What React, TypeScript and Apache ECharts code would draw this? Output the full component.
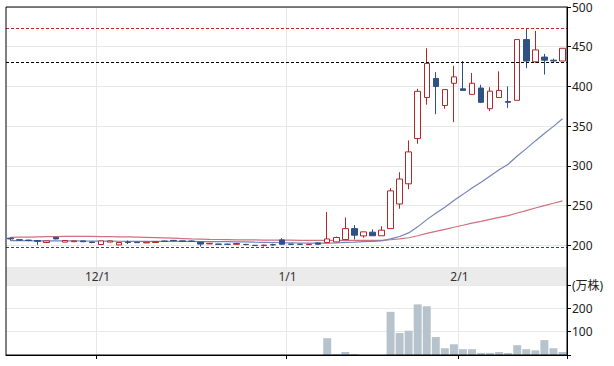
import React, { useEffect, useRef } from "react";
import * as echarts from "echarts";

const dates = [
  "2017/11/16", "2017/11/17", "2017/11/20", "2017/11/21", "2017/11/22", "2017/11/24", "2017/11/27", "2017/11/28", "2017/11/29", "2017/11/30",
  "2017/12/1", "2017/12/4", "2017/12/5", "2017/12/6", "2017/12/7", "2017/12/8", "2017/12/11", "2017/12/12", "2017/12/13", "2017/12/14",
  "2017/12/15", "2017/12/18", "2017/12/19", "2017/12/20", "2017/12/21", "2017/12/22", "2017/12/25", "2017/12/26", "2017/12/27", "2017/12/28",
  "2017/12/29", "2018/1/4", "2018/1/5", "2018/1/9", "2018/1/10", "2018/1/11", "2018/1/12", "2018/1/15", "2018/1/16", "2018/1/17",
  "2018/1/18", "2018/1/19", "2018/1/22", "2018/1/23", "2018/1/24", "2018/1/25", "2018/1/26", "2018/1/29", "2018/1/30", "2018/1/31",
  "2018/2/1", "2018/2/2", "2018/2/5", "2018/2/6", "2018/2/7", "2018/2/8", "2018/2/9", "2018/2/13", "2018/2/14", "2018/2/15",
  "2018/2/16", "2018/2/19",
];

// [open, close, low, high]
const candles = [
  [209, 208, 206, 210], [207, 206.5, 206, 207.5], [206.5, 206, 205, 207], [206, 205, 200.5, 206.5], [203.5, 205.5, 203.5, 205.5],
  [210, 208, 207.5, 210], [204, 206, 204, 206], [204.5, 205.5, 204.5, 205.5], [205.5, 204.5, 204.5, 205.5], [204, 203.5, 202.5, 204.5],
  [201, 205.5, 200.5, 205.5], [204, 205.5, 204, 206], [200.5, 203.5, 200, 203.5], [204, 203.5, 201.5, 206], [203.8, 203.3, 203, 204],
  [203, 203.8, 203, 204], [203.5, 204.5, 203.5, 204.5], [205.2, 205, 204.5, 206], [206.2, 205.8, 205.5, 206.5], [205.5, 205, 205, 205.5],
  [205.2, 205, 204.5, 206], [204, 201.5, 198.3, 204], [201.7, 202.5, 201.5, 202.8], [201.6, 201.2, 201, 201.8], [201.4, 201.2, 200.5, 202],
  [201.2, 202.3, 201, 203], [201.1, 200.9, 200, 201.8], [200, 199.6, 199.4, 200.2], [199.6, 200.2, 198.5, 200.8], [200.8, 200.5, 199.5, 202],
  [206.8, 201.3, 201, 209], [201.5, 201.2, 201, 201.6], [201.4, 201.2, 201, 201.6], [200.8, 201.3, 200.5, 201.5], [203, 201.3, 201, 203.3],
  [203.4, 208, 203, 242], [204.2, 209.8, 203.8, 211], [207.2, 221, 207, 235], [221, 212.7, 207.2, 225.4], [211.8, 216.9, 209.5, 217],
  [216.5, 212, 211.8, 220], [212, 219, 211.8, 224], [221, 268.5, 221, 272], [252, 283.4, 246, 292], [277.4, 317.6, 270.7, 332],
  [334.4, 393.8, 327.8, 397], [386, 429, 377, 448], [410, 400, 365, 418], [376, 396, 372, 396], [404, 412, 355, 426],
  [397, 395, 395, 432], [390, 404, 390, 417], [398, 380, 379, 402], [372, 394, 369, 399], [386, 395, 386, 419],
  [381, 380, 373, 400], [382.5, 459, 382.5, 459], [459, 432, 423, 473], [431, 446, 429.5, 470], [437, 433, 415, 441],
  [433, 432, 431, 435], [432, 448, 432, 448],
];

const ma25 = [
  205.8, 205.8, 205.7, 205.6, 205.6, 205.6, 205.5, 205.5, 205.4, 205.3,
  205.3, 205.2, 205.1, 205.0, 205.0, 204.9, 204.9, 204.9, 204.8, 204.8,
  204.8, 204.7, 204.7, 204.6, 204.6, 204.4, 204.2, 203.9, 203.7, 203.5,
  203.2, 203.1, 202.9, 202.8, 202.7, 202.8, 202.9, 203.6, 204.0, 204.5,
  204.9, 205.5, 208.0, 211.1, 215.6, 223.2, 232.3, 240.2, 248.0, 256.4,
  264.1, 272.2, 279.4, 287.2, 295.0, 302.1, 312.4, 321.7, 331.4, 340.7,
  349.7, 359.2,
];

const ma75 = [
  210.0, 210.2, 210.4, 210.6, 210.8, 211.0, 211.1, 211.2, 211.2, 211.1,
  211.0, 210.9, 210.7, 210.5, 210.3, 210.0, 209.7, 209.3, 208.9, 208.5,
  208.1, 207.8, 207.5, 207.3, 207.1, 206.9, 206.8, 206.7, 206.6, 206.5,
  206.4, 206.4, 206.3, 206.3, 206.2, 206.2, 206.2, 206.2, 206.2, 206.2,
  206.2, 206.2, 207.0, 208.0, 209.5, 212.0, 214.9, 217.5, 220.0, 222.7,
  225.2, 227.8, 230.1, 232.6, 235.1, 237.4, 240.7, 243.7, 246.9, 249.9,
  252.9, 256.0,
];

const volumes = [
  0, 0, 0, 0, 0, 0, 0, 0, 0, 0,
  0, 0, 0, 0, 0, 0, 0, 0, 0, 0,
  0, 0, 0, 0, 0, 0, 0, 0, 0, 0,
  0, 0, 0, 0, 0, 72, 4, 13, 4, 0,
  0, 0, 185, 94, 104, 217, 209, 77, 29, 46,
  25, 25, 9, 9, 13, 9, 42, 25, 20, 64,
  29, 13,
];

const periodHigh = 473;
const refPrice = 431;
const periodLow = 197.5;

const monthOf = (d: string) => d.split("/")[1];
const isMonthStart = (i: number) => i > 0 && monthOf(dates[i]) !== monthOf(dates[i - 1]);

const FONT = "'Noto Sans', 'Noto Sans CJK JP', sans-serif";
const RED = "#b0272c";
const NAVY = "#2f5283";
const GRID = "#e8e8e8";

const dashedLine = (value: number, color: string) => ({
  silent: true,
  symbol: ["none", "none"],
  label: { show: false },
  emphasis: { disabled: true },
  lineStyle: { color, type: [3, 2], width: 1 },
  data: [{ yAxis: value }],
});

export default function App() {
  const ref = useRef<HTMLDivElement>(null);
  useEffect(() => {
    if (!ref.current) return;
    const chart = echarts.init(ref.current, undefined, { renderer: "svg" });
    const option: any = {
      animation: false,
      backgroundColor: "#fff",
      textStyle: { fontFamily: FONT },
      grid: [
        { left: 6, right: 47, top: 7, height: 278 },
        { left: 6, right: 47, top: 285, height: 70 },
      ],
      xAxis: [
        {
          type: "category",
          gridIndex: 0,
          data: dates,
          boundaryGap: true,
          offset: -18,
          axisLine: { show: false },
          axisTick: { show: false },
          axisLabel: {
            interval: (i: number) => isMonthStart(i),
            formatter: (v: string) => Number(v.split("/")[1]) + "/1",
            margin: 3,
            color: "#333",
            fontSize: 12,
            fontFamily: FONT,
            padding: [0, 7, 0, 0],
          },
          splitLine: { show: true, interval: (i: number) => isMonthStart(i), lineStyle: { color: GRID } },
        },
        {
          type: "category",
          gridIndex: 1,
          data: dates,
          boundaryGap: true,
          axisLine: { show: true, lineStyle: { color: "#000" } },
          axisTick: { show: true, interval: (i: number) => isMonthStart(i), length: 4, lineStyle: { color: "#000" } },
          axisLabel: { show: false },
          splitLine: { show: true, interval: (i: number) => isMonthStart(i), lineStyle: { color: GRID } },
        },
      ],
      yAxis: [
        {
          type: "value",
          gridIndex: 0,
          position: "right",
          min: 150,
          max: 500,
          interval: 50,
          axisLine: { show: true, lineStyle: { color: "#000" } },
          axisTick: { show: true, length: 4, lineStyle: { color: "#000" } },
          axisLabel: {
            formatter: (v: number) => (v === 150 ? "" : String(v)),
            margin: 5,
            color: "#222",
            fontSize: 12,
            fontFamily: FONT,
          },
          splitLine: { show: true, lineStyle: { color: GRID } },
        },
        {
          type: "value",
          gridIndex: 1,
          position: "right",
          min: 0,
          max: 300,
          interval: 100,
          axisLine: { show: true, lineStyle: { color: "#000" } },
          axisTick: { show: true, length: 4, lineStyle: { color: "#000" } },
          axisLabel: {
            formatter: (v: number) => (v === 0 ? "" : v === 300 ? "(万株)" : String(v)),
            margin: 5,
            color: "#222",
            fontSize: 12,
            fontFamily: FONT,
          },
          splitLine: { show: true, lineStyle: { color: GRID } },
        },
      ],
      graphic: [
        {
          type: "rect",
          z: -1,
          shape: { x: 6, y: 267, width: 561, height: 18 },
          style: { fill: "#ebebeb" },
          silent: true,
        },
        {
          type: "rect",
          z: 100,
          shape: { x: 6, y: 7, width: 561, height: 348 },
          style: { fill: "none", stroke: "#000", lineWidth: 1 },
          silent: true,
        },
      ],
      series: [
        {
          type: "line",
          xAxisIndex: 0,
          yAxisIndex: 0,
          data: ma75,
          symbol: "none",
          lineStyle: { color: "#d0707f", width: 1.2 },
          z: 2,
          markLine: dashedLine(periodHigh, "#c0282e"),
        },
        {
          type: "line",
          xAxisIndex: 0,
          yAxisIndex: 0,
          data: ma25,
          symbol: "none",
          lineStyle: { color: "#7285bd", width: 1.2 },
          z: 2,
          markLine: dashedLine(refPrice, "#000000"),
        },
        {
          type: "candlestick",
          xAxisIndex: 0,
          yAxisIndex: 0,
          data: candles,
          barWidth: 6,
          z: 3,
          itemStyle: {
            color: "#ffffff",
            color0: NAVY,
            borderColor: RED,
            borderColor0: NAVY,
            borderWidth: 1,
          },
          markLine: dashedLine(periodLow, "#2e4a6b"),
        },
        {
          type: "bar",
          xAxisIndex: 1,
          yAxisIndex: 1,
          data: volumes,
          barCategoryGap: "12%",
          itemStyle: { color: "#b7c3cc" },
        },
      ],
    };
    chart.setOption(option);
    return () => chart.dispose();
  }, []);
  return (
    <div
      ref={ref}
      style={{ position: "fixed", left: 0, top: 0, width: 614, height: 366 }}
    />
  );
}
